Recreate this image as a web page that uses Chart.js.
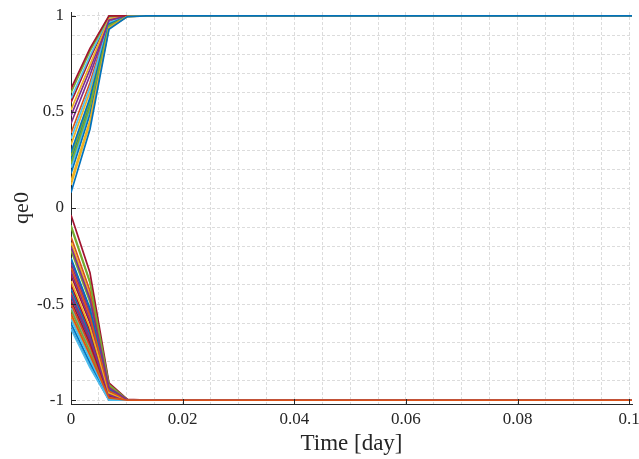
<!DOCTYPE html>
<html>
<head>
<meta charset="utf-8">
<script src="https://cdn.jsdelivr.net/npm/chart.js@4.4.0/dist/chart.umd.min.js"></script>
<style>
  html, body { margin: 0; padding: 0; background: #fff; }
  #wrap { width: 639px; height: 459px; position: relative; }
</style>
</head>
<body>
<div id="wrap"><canvas id="grafico"></canvas></div>
<script>
// instantes de tempo (dia)
const times = [0, 0.0034, 0.0068, 0.0101, 0.0135, 0.1005];

// valores de qe0 em cada instante, um valor por curva (50 curvas)
const q0 = [0.08, -0.55, 0.14, -0.20, 0.23, -0.63, 0.62, 0.29, -0.31, -0.38,
            0.44, -0.10, 0.36, -0.036, -0.26, 0.39, 0.51, -0.45, 0.60, -0.58,
            -0.48, 0.18, -0.50, 0.12, -0.33, -0.22, 0.21, -0.40, -0.42, -0.15,
            -0.18, -0.29, -0.53, -0.52, -0.35, -0.60, -0.44, -0.56, -0.27, -0.09,
            -0.61, -0.62, -0.46, -0.57, 0.33, 0.48, 0.27, 0.57, 0.55, 0.25];
const q1 = [0.41, -0.764, 0.457, -0.473, 0.527, -0.83, 0.831, 0.574, -0.564, -0.622,
            0.691, -0.39, 0.628, -0.337, -0.523, 0.652, 0.745, -0.68, 0.816, -0.788,
            -0.705, 0.488, -0.722, 0.441, -0.581, -0.49, 0.511, -0.639, -0.656, -0.432,
            -0.456, -0.548, -0.747, -0.739, -0.598, -0.805, -0.672, -0.772, -0.531, -0.382,
            -0.813, -0.822, -0.689, -0.78, 0.605, 0.722, 0.558, 0.792, 0.777, 0.543];
const q2 = [0.93, -0.988, 0.938, -0.935, 0.949, -1.0, 1.0, 0.957, -0.952, -0.962,
            0.977, -0.92, 0.966, -0.91, -0.944, 0.97, 0.985, -0.973, 0.997, -0.992,
            -0.977, 0.943, -0.98, 0.935, -0.955, -0.938, 0.947, -0.965, -0.968, -0.928,
            -0.932, -0.949, -0.985, -0.983, -0.958, -0.995, -0.971, -0.989, -0.946, -0.918,
            -0.997, -1.0, -0.974, -0.991, 0.963, 0.981, 0.955, 0.993, 0.99, 0.952];
const q3 = [0.996, -1.0, 0.997, -0.998, 0.998, -1.0, 1.0, 0.998, -0.999, -0.999,
            1.0, -0.997, 0.999, -0.996, -0.999, 0.999, 1.0, -1.0, 1.0, -1.0,
            -1.0, 0.997, -1.0, 0.996, -0.999, -0.998, 0.997, -1.0, -1.0, -0.998,
            -0.998, -0.999, -1.0, -1.0, -0.999, -1.0, -1.0, -1.0, -0.999, -0.997,
            -1.0, -1.0, -1.0, -1.0, 0.999, 1.0, 0.998, 1.0, 1.0, 0.998];
const qFinal = [1, -1, 1, -1, 1, -1, 1, 1, -1, -1,
                1, -1, 1, -1, -1, 1, 1, -1, 1, -1,
                -1, 1, -1, 1, -1, -1, 1, -1, -1, -1,
                -1, -1, -1, -1, -1, -1, -1, -1, -1, -1,
                -1, -1, -1, -1, 1, 1, 1, 1, 1, 1];

// rotulos dos eixos
const xTickLabels = ['0', '0.02', '0.04', '0.06', '0.08', '0.1'];
const yTickLabels = ['-1', '-0.5', '0', '0.5', '1'];

// cores padrao do MATLAB
const cores = ['#0072BD', '#D95319', '#EDB120', '#7E2F8E', '#77AC30', '#4DBEEE', '#A2142F'];

const datasets = q0.map((v, i) => ({
  label: 'q' + i,
  data: [
    { x: times[0], y: q0[i] },
    { x: times[1], y: q1[i] },
    { x: times[2], y: q2[i] },
    { x: times[3], y: q3[i] },
    { x: times[4], y: qFinal[i] },
    { x: times[5], y: qFinal[i] }
  ],
  borderColor: cores[i % cores.length],
  borderWidth: 1.7,
  pointRadius: 0,
  tension: 0,
  fill: false
}));

const fonte = "'Liberation Serif', 'DejaVu Serif', serif";
const corGrade = '#dcdcdc';

// ticks de 0.005 em x e 0.1 em y (grade menor)
function ticksX(scale) {
  const t = [];
  for (let k = 0; k <= 20; k++) t.push({ value: +(k * 0.005).toFixed(4) });
  scale.ticks = t;
}
function ticksY(scale) {
  const t = [];
  for (let k = -10; k <= 10; k++) t.push({ value: +(k * 0.1).toFixed(2) });
  scale.ticks = t;
}

// marcas dos ticks para dentro, estilo MATLAB
const ticksParaDentro = {
  id: 'ticksParaDentro',
  afterDraw(chart) {
    const c = chart.ctx;
    const xs = chart.scales.x, ys = chart.scales.y;
    c.save();
    c.strokeStyle = '#262626';
    c.lineWidth = 1;
    c.beginPath();
    xTickLabels.forEach(l => {
      const px = Math.round(xs.getPixelForValue(parseFloat(l))) + 0.5;
      c.moveTo(px, ys.bottom);
      c.lineTo(px, ys.bottom - 5);
    });
    yTickLabels.forEach(l => {
      const py = Math.round(ys.getPixelForValue(parseFloat(l))) + 0.5;
      c.moveTo(xs.left, py);
      c.lineTo(xs.left + 5, py);
    });
    c.stroke();
    c.restore();
  }
};

new Chart(document.getElementById('grafico').getContext('2d'), {
  type: 'line',
  data: { datasets: datasets },
  plugins: [ticksParaDentro],
  options: {
    responsive: true,
    maintainAspectRatio: false,
    animation: false,
    layout: { padding: { top: 12, right: 7, left: 0, bottom: 0 } },
    plugins: { legend: { display: false }, tooltip: { enabled: false } },
    scales: {
      x: {
        type: 'linear',
        min: 0,
        max: 0.1005,
        afterBuildTicks: ticksX,
        afterFit: s => { s.height = 55; s.paddingLeft = 0; s.paddingRight = 0; },
        grid: { color: corGrade, lineWidth: 1, drawTicks: false },
        border: { display: true, color: '#262626', width: 1, dash: ctx => ctx.tick ? [3, 2] : [] },
        ticks: {
          autoSkip: false,
          maxRotation: 0,
          padding: 5,
          color: '#262626',
          font: { family: fonte, size: 17 },
          callback: v => {
            const l = xTickLabels.find(s => Math.abs(parseFloat(s) - v) < 1e-6);
            return l === undefined ? '' : l;
          }
        },
        title: {
          display: true,
          text: 'Time [day]',
          color: '#262626',
          font: { family: fonte, size: 23 },
          padding: { top: 4, bottom: 1 }
        }
      },
      y: {
        type: 'linear',
        min: -1.02,
        max: 1.02,
        afterBuildTicks: ticksY,
        afterFit: s => { s.width = 71; s.paddingTop = 0; s.paddingBottom = 0; },
        grid: { color: corGrade, lineWidth: 1, drawTicks: false },
        border: { display: true, color: '#262626', width: 1, dash: ctx => ctx.tick ? [3, 2] : [] },
        ticks: {
          autoSkip: false,
          padding: 7,
          color: '#262626',
          font: { family: fonte, size: 17 },
          callback: v => {
            const l = yTickLabels.find(s => Math.abs(parseFloat(s) - v) < 1e-6);
            return l === undefined ? '' : l;
          }
        },
        title: {
          display: true,
          text: 'qe0',
          color: '#262626',
          font: { family: fonte, size: 22 },
          padding: { top: 9, bottom: 10 }
        }
      }
    }
  }
});
</script>
</body>
</html>
